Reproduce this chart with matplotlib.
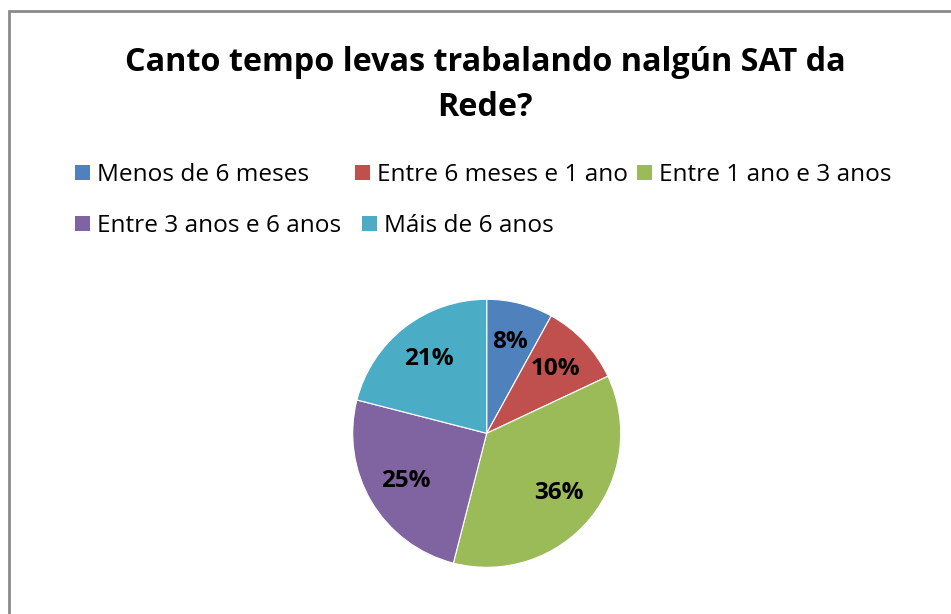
import matplotlib as mpl
import matplotlib.pyplot as plt
from matplotlib.patches import Rectangle, Patch

mpl.rcParams['font.family'] = ['Open Sans', 'DejaVu Sans']

# Data
categories = ['Menos de 6 meses', 'Entre 6 meses e 1 ano', 'Entre 1 ano e 3 anos',
              'Entre 3 anos e 6 anos', 'Máis de 6 anos']
values = [8, 10, 36, 25, 21]
colors = ['#4F81BD', '#C0504D', '#9BBB59', '#8064A2', '#4BACC6']
title = 'Canto tempo levas trabalando nalgún SAT da\nRede?'

W, H = 951, 614
fig = plt.figure(figsize=(W / 100, H / 100), dpi=100)

# grey frame (right/bottom edges cut off in the original)
fig.patches.append(Rectangle((9 / W, -0.1), 1.2, 1 - 10.5 / H + 0.1, transform=fig.transFigure,
                             fill=False, edgecolor='#8a8a8a', linewidth=2))

fig.text(485 / W, 1 - 85 / H, title, ha='center', va='center', fontsize=23.3,
         fontweight='bold', linespacing=1.45)

# pie
cx, cy, r = 486.7, 433.3, 134
ax = fig.add_axes([(cx - r) / W, (H - cy - r) / H, 2 * r / W, 2 * r / H])
wedges, texts, autotexts = ax.pie(values, colors=colors, startangle=90, counterclock=False,
                                  autopct='%1.0f%%', pctdistance=0.7,
                                  wedgeprops=dict(edgecolor='white', linewidth=0.8),
                                  textprops=dict(fontsize=17.5, fontweight='bold', color='black'))
ax.set_xlim(-1, 1)
ax.set_ylim(-1, 1)

# legend entries flow in rows like Excel does
legend_pos = [(75, 175), (355, 175), (637, 175), (75, 226), (362, 226)]
for c, lab, (px, py) in zip(colors, categories, legend_pos):
    fig.legend([Patch(facecolor=c, edgecolor='none')], [lab], loc='center left',
               bbox_to_anchor=(px / W, 1 - py / H), frameon=False, fontsize=17.6,
               handlelength=0.6, handleheight=0.6, handletextpad=0.3, borderpad=0,
               borderaxespad=0)

fig.savefig('out.png', dpi=100)
